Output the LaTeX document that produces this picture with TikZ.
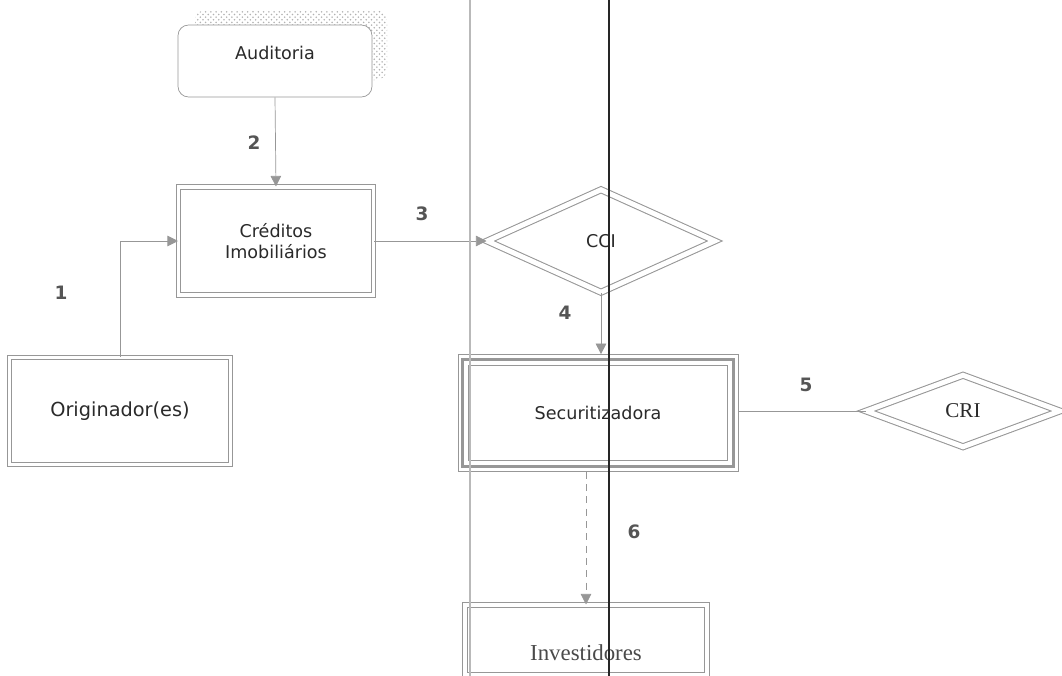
\documentclass[tikz,border=0pt]{standalone}
\usepackage{fontspec}
\setmainfont{DejaVu Sans}
\newfontfamily\timesfont{Liberation Serif}
\usetikzlibrary{shapes.geometric, arrows.meta, patterns}
\definecolor{linegray}{HTML}{979797}
\definecolor{textgray}{HTML}{2A2A2A}

\begin{document}
\begin{tikzpicture}[x = 0.02cm, y = -0.02cm, font = \fontsize{10}{12}\selectfont, text = textgray,
  box/.style = {draw = linegray, fill = white, inner sep = 0pt, align = center},
  dbox/.style = {box, double = white, double distance = 2pt, line width = 0.6pt},
  ddiam/.style = {dbox, diamond, double distance = 2.8pt},
  arr/.style = {draw = linegray, -{Triangle[length = 6pt, width = 6pt]}},
  num/.style = {font = \bfseries\fontsize{10.5}{12}\selectfont, text = textgray!80}]
\useasboundingbox (0,0) rectangle (1062,676);

% shadow behind Auditoria
\fill [pattern = crosshatch dots, pattern color = gray!60, rounded corners = 6pt] (195,10) rectangle (387,80);

\node [box, rounded corners = 6pt, minimum width = 3.88cm, minimum height = 1.44cm, text depth = 0.34cm] (aud) at (275,61) {Auditoria};
\node [dbox, minimum width = 3.9cm, minimum height = 2.16cm] (cred) at (276,241) {Créditos\\Imobiliários};
\node [dbox, minimum width = 4.42cm, minimum height = 2.14cm, font = \fontsize{11}{13}\selectfont] (orig) at (120,411) {Originador(es)};
\node [ddiam, minimum width = 4.56cm, minimum height = 2.06cm] (cci) at (601,241) {CCI};
\node [box, minimum width = 5.6cm, minimum height = 2.34cm] (sec) at (598,413) {Securitizadora};
\draw [linegray, line width = 1.6pt] ([shift = {(5,5)}]sec.north west) rectangle ([shift = {(-5,-5)}]sec.south east);
\draw [linegray] ([shift = {(11,11)}]sec.north west) rectangle ([shift = {(-11,-11)}]sec.south east);
\node [ddiam, minimum width = 3.88cm, minimum height = 1.44cm, font = \timesfont\fontsize{12}{14}\selectfont] (cri) at (963,411) {CRI};
\node [dbox, minimum width = 4.84cm, minimum height = 1.4cm, text height = 0.8cm, text depth = 0cm,
  font = \timesfont\fontsize{13}{15}\selectfont, text = textgray!85] (inv) at (586,640) {Investidores};

\draw [arr] (orig.north) |- (cred.west);
\draw [arr] (aud.south) -- (cred.north);
\draw [arr] (cred.east) -- (cci.west);
\draw [arr] (cci.south) -- (cci.south |- sec.north);
\draw [linegray] (sec.east |- cri.west) -- (cri.west);
\draw [arr, dash pattern = on 4pt off 3pt] (inv.north |- sec.south) -- (inv.north);

\node [num] (n1) at (61,293) {1};
\node [num] (n2) at (254,143) {2};
\node [num] (n3) at (422,214) {3};
\node [num] (n4) at (565,313) {4};
\node [num] (n5) at (806,385) {5};
\node [num] (n6) at (634,532) {6};

% the two long vertical lines
\draw [gray!55, line width = 0.9pt] (470,0) -- (470,676);
\draw [black!85, line width = 1.1pt] (609,0) -- (609,676);
\end{tikzpicture}
\end{document}
